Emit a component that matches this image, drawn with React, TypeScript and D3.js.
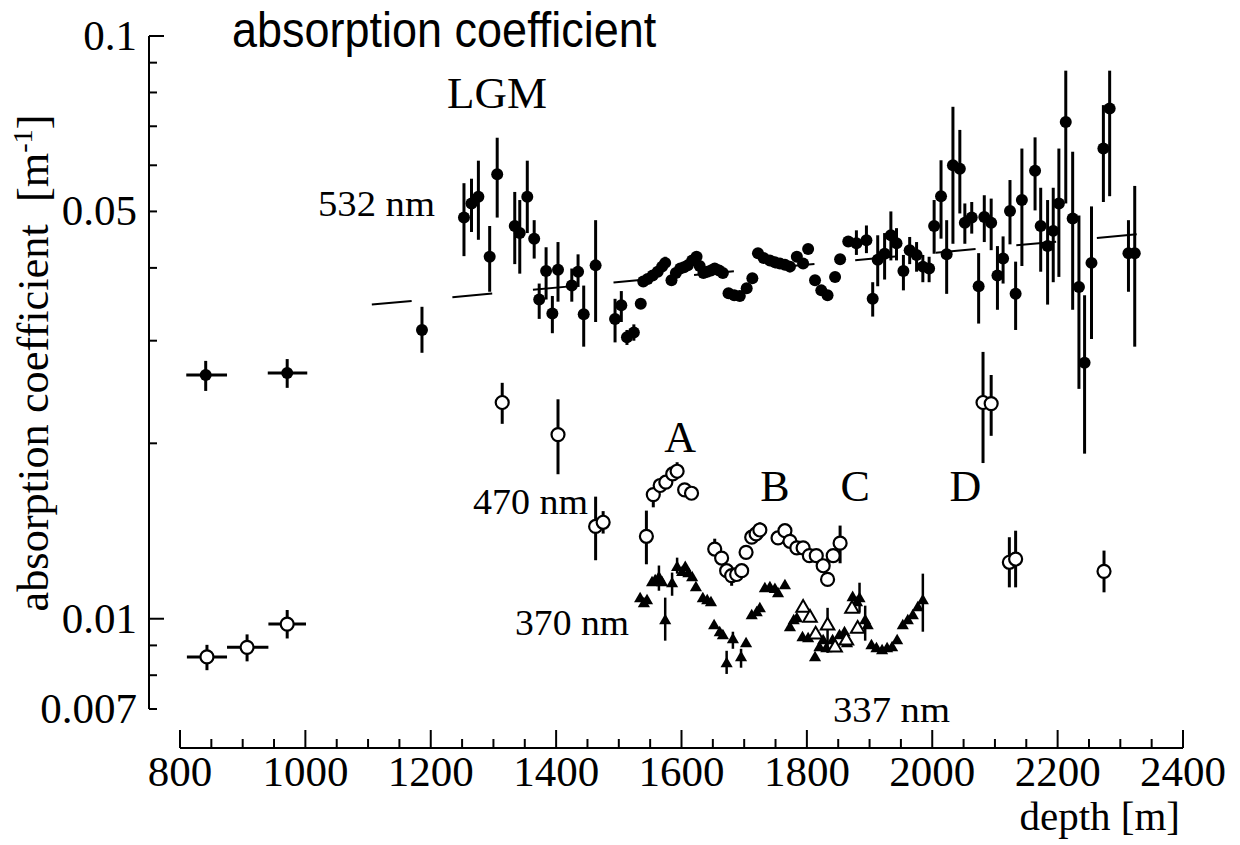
import React from "react";
import * as d3 from "d3";

// ---------- axis ticks ----------
const depthMajorTicks = [800, 1000, 1200, 1400, 1600, 1800, 2000, 2200, 2400];
const valueMajorTicks = [0.1, 0.05, 0.01, 0.007];
const valueMajorLabels = ["0.1", "0.05", "0.01", "0.007"];
const valueLongTicks = [0.1, 0.01];
const valueMinorTicks = [0.09, 0.08, 0.07, 0.06, 0.04, 0.03, 0.02, 0.009, 0.008];

// ---------- data: [depth, value, low, high] ----------
// 532 nm points with depth ranges: [depth, value, low, high, depthLow, depthHigh]
const nm532Wide = [
  [841, 0.0262, 0.0246, 0.0277, 810, 875],
  [971, 0.0264, 0.0249, 0.0279, 940, 1003],
];
const nm532 = [
  [1186, 0.0313, 0.0286, 0.0343],
  [1253, 0.0488, 0.0419, 0.0559],
  [1265, 0.0516, 0.0461, 0.0569],
  [1276, 0.053, 0.0447, 0.0611],
  [1294, 0.0418, 0.0364, 0.0472],
  [1306, 0.0579, 0.0488, 0.0669],
  [1334, 0.0472, 0.0406, 0.054],
  [1342, 0.0459, 0.0391, 0.0523],
  [1354, 0.053, 0.0459, 0.0611],
  [1365, 0.0449, 0.0415, 0.0483],
  [1373, 0.0353, 0.0327, 0.0376],
  [1384, 0.0395, 0.0353, 0.0434],
  [1394, 0.0334, 0.0309, 0.0358],
  [1403, 0.0397, 0.035, 0.0443],
  [1425, 0.0373, 0.035, 0.0399],
  [1435, 0.0394, 0.0371, 0.0422],
  [1444, 0.0333, 0.0293, 0.0373],
  [1463, 0.0404, 0.0323, 0.0483],
  [1494, 0.0327, 0.0298, 0.0354],
  [1504, 0.0345, 0.0323, 0.0365],
  [1513, 0.0304, 0.0295, 0.0313],
  [1524, 0.031, 0.03, 0.032],
  [1535, 0.0347, null, null],
  [1539, 0.0379, null, null],
  [1546, 0.0383, null, null],
  [1554, 0.0388, null, null],
  [1562, 0.0394, null, null],
  [1569, 0.0402, null, null],
  [1574, 0.0408, 0.04, 0.0418],
  [1584, 0.0381, null, null],
  [1591, 0.0392, null, null],
  [1598, 0.0399, null, null],
  [1604, 0.0401, null, null],
  [1610, 0.0404, null, null],
  [1617, 0.0412, null, null],
  [1624, 0.0418, null, null],
  [1629, 0.0403, null, null],
  [1635, 0.0392, null, null],
  [1641, 0.0394, null, null],
  [1647, 0.0396, null, null],
  [1653, 0.0399, null, null],
  [1660, 0.0396, null, null],
  [1666, 0.0392, null, null],
  [1675, 0.0362, null, null],
  [1684, 0.0359, null, null],
  [1693, 0.0358, null, null],
  [1704, 0.0369, null, null],
  [1713, 0.0384, null, null],
  [1722, 0.0424, null, null],
  [1731, 0.0416, null, null],
  [1741, 0.0412, null, null],
  [1749, 0.0409, null, null],
  [1757, 0.0407, null, null],
  [1765, 0.0405, null, null],
  [1773, 0.0402, null, null],
  [1784, 0.0418, null, null],
  [1794, 0.0407, null, null],
  [1802, 0.0431, null, null],
  [1813, 0.0381, null, null],
  [1823, 0.0366, null, null],
  [1833, 0.0359, null, null],
  [1845, 0.0386, null, null],
  [1853, 0.0414, null, null],
  [1866, 0.0444, null, null],
  [1879, 0.0441, 0.0421, 0.0464],
  [1895, 0.0446, 0.0424, 0.0473],
  [1905, 0.0354, 0.033, 0.0378],
  [1913, 0.0413, 0.0372, 0.0455],
  [1924, 0.0423, 0.0382, 0.0459],
  [1934, 0.0455, 0.0412, 0.05],
  [1943, 0.0441, 0.0412, 0.0468],
  [1954, 0.0395, 0.0366, 0.0421],
  [1964, 0.0429, 0.0406, 0.0452],
  [1975, 0.0421, 0.0394, 0.0443],
  [1985, 0.0402, 0.0378, 0.0421],
  [1995, 0.0399, 0.0378, 0.0418],
  [2003, 0.0472, 0.0423, 0.0523],
  [2014, 0.0531, 0.0449, 0.0612],
  [2023, 0.0422, 0.0361, 0.0483],
  [2033, 0.06, 0.044, 0.0756],
  [2044, 0.0592, 0.0496, 0.069],
  [2052, 0.0478, 0.044, 0.0516],
  [2063, 0.0488, 0.0458, 0.0519],
  [2074, 0.0372, 0.0321, 0.0424],
  [2083, 0.0489, 0.0443, 0.0533],
  [2094, 0.0478, 0.0429, 0.0526],
  [2104, 0.0388, 0.0339, 0.0436],
  [2113, 0.0415, 0.0376, 0.0453],
  [2124, 0.0501, 0.0439, 0.0566],
  [2133, 0.0361, 0.0313, 0.041],
  [2143, 0.0523, 0.0403, 0.0641],
  [2164, 0.0587, 0.0502, 0.067],
  [2173, 0.0472, 0.0394, 0.0549],
  [2184, 0.0436, 0.0346, 0.0523],
  [2193, 0.0463, 0.0378, 0.0549],
  [2202, 0.0516, 0.0386, 0.0641],
  [2213, 0.0712, 0.0516, 0.0872],
  [2224, 0.0486, 0.0339, 0.0633],
  [2234, 0.0371, 0.0248, 0.0492],
  [2243, 0.0275, 0.0192, 0.0359],
  [2254, 0.0408, 0.0302, 0.051],
  [2273, 0.0641, 0.0519, 0.0761],
  [2283, 0.0751, 0.0531, 0.0872],
  [2313, 0.0424, 0.0364, 0.0483],
  [2323, 0.0424, 0.0293, 0.0553],
];

// trend line (dashed) for 532 nm: [depth, value]
const nm532Trend = [
  [1106, 0.0346],
  [2328, 0.0457],
];

// 470 nm with depth ranges
const nm470Wide = [
  [843, 0.0086, 0.00816, 0.00902, 811, 875],
  [907, 0.00893, 0.00845, 0.0094, 875, 941],
  [971, 0.00979, 0.00925, 0.01035, 941, 1001],
];
const nm470 = [
  [1314, 0.0235, 0.0216, 0.0254],
  [1403, 0.0207, 0.0177, 0.0238],
  [1463, 0.0144, 0.0126, 0.0162],
  [1475, 0.01464, 0.014, 0.0153],
  [1544, 0.01385, 0.0124, 0.01533],
  [1555, 0.01633, 0.01553, 0.01633],
  [1566, 0.01693, null, null],
  [1575, 0.01715, null, null],
  [1586, 0.01772, null, null],
  [1593, 0.01791, 0.01791, 0.01856],
  [1605, 0.01664, null, null],
  [1616, 0.01642, null, null],
  [1653, 0.01317, 0.01317, 0.01372],
  [1664, 0.01271, null, null],
  [1672, 0.01209, null, null],
  [1680, 0.01186, 0.01139, 0.01186],
  [1688, 0.01191, null, null],
  [1696, 0.01209, null, null],
  [1703, 0.013, null, null],
  [1712, 0.0138, null, null],
  [1719, 0.01398, null, null],
  [1725, 0.0142, 0.0142, 0.01464],
  [1754, 0.01376, null, null],
  [1765, 0.01416, null, null],
  [1773, 0.01358, null, null],
  [1784, 0.01323, null, null],
  [1794, 0.01323, null, null],
  [1804, 0.01283, null, null],
  [1815, 0.01283, null, null],
  [1826, 0.01233, null, null],
  [1833, 0.01168, 0.01139, 0.01168],
  [1842, 0.01283, null, null],
  [1853, 0.01348, 0.01245, 0.01445],
  [2081, 0.0235, 0.0185, 0.0287],
  [2094, 0.0234, 0.0206, 0.0262],
  [2123, 0.0125, 0.01132, 0.0138],
  [2133, 0.01266, 0.01132, 0.01416],
  [2274, 0.01206, 0.0111, 0.01309],
];

// 370 nm (filled triangles)
const nm370 = [
  [1534, 0.01082, null, null],
  [1540, 0.01061, null, null],
  [1545, 0.01074, null, null],
  [1553, 0.01153, null, null],
  [1558, 0.01162, null, null],
  [1564, 0.01176, 0.01117, 0.01234],
  [1569, 0.01153, null, null],
  [1574, 0.00992, 0.00917, 0.01087],
  [1585, 0.01148, 0.01095, 0.012],
  [1593, 0.01224, 0.01195, 0.01273],
  [1601, 0.012, null, null],
  [1606, 0.01224, null, null],
  [1611, 0.01195, null, null],
  [1617, 0.01176, null, null],
  [1623, 0.0113, null, null],
  [1634, 0.01082, null, null],
  [1641, 0.01074, null, null],
  [1647, 0.01065, null, null],
  [1652, 0.00973, null, null],
  [1661, 0.00946, null, null],
  [1666, 0.00935, null, null],
  [1672, 0.00837, 0.00804, 0.00881],
  [1682, 0.0092, 0.00888, 0.0095],
  [1695, 0.00857, 0.00824, 0.00888],
  [1703, 0.00906, null, null],
  [1712, 0.01012, null, null],
  [1720, 0.01024, null, null],
  [1725, 0.0104, null, null],
  [1733, 0.01126, null, null],
  [1741, 0.0113, null, null],
  [1749, 0.01122, null, null],
  [1754, 0.01104, null, null],
  [1765, 0.01139, null, null],
  [1773, 0.00965, null, null],
  [1779, 0.00992, null, null],
  [1784, 0.01, null, null],
  [1793, 0.00928, null, null],
  [1802, 0.00924, null, null],
  [1813, 0.00857, null, null],
  [1820, 0.00892, null, null],
  [1826, 0.00917, null, null],
  [1831, 0.00888, null, null],
  [1841, 0.00917, null, null],
  [1852, 0.00935, null, null],
  [1860, 0.00946, null, null],
  [1864, 0.00906, null, null],
  [1873, 0.01087, null, null],
  [1880, 0.01065, null, null],
  [1884, 0.01082, 0.01024, 0.01153],
  [1893, 0.00992, 0.00917, 0.01053],
  [1897, 0.00973, null, null],
  [1903, 0.00899, null, null],
  [1911, 0.00888, null, null],
  [1920, 0.00881, null, null],
  [1928, 0.00888, null, null],
  [1936, 0.00892, null, null],
  [1944, 0.00917, null, null],
  [1953, 0.00973, null, null],
  [1961, 0.00992, null, null],
  [1969, 0.01012, null, null],
  [1977, 0.01044, null, null],
  [1985, 0.01074, 0.0095, 0.01195],
];

// 337 nm (open triangles)
const nm337 = [
  [1794, 0.01044, null, null],
  [1805, 0.01004, null, null],
  [1814, 0.00939, null, null],
  [1833, 0.00973, 0.00874, 0.01044],
  [1845, 0.00892, null, null],
  [1863, 0.00917, null, null],
  [1872, 0.0104, null, null],
  [1881, 0.00961, null, null],
];

// annotations: [text, depth-anchor, value-anchor]
const bandLabels = [
  { text: "A", depth: 1598, value: 0.0193 },
  { text: "B", depth: 1749, value: 0.0159 },
  { text: "C", depth: 1877, value: 0.0159 },
  { text: "D", depth: 2053, value: 0.0159 },
];

const W = 1240;
const H = 845;
const serif = "'Liberation Serif', 'DejaVu Serif', serif";
const sans = "'Liberation Sans', Arial, sans-serif";

export default function App() {
  const X = d3.scaleLinear().domain([800, 2400]).range([180, 1183]);
  const Y = d3.scaleLog().domain([0.007, 0.1]).range([709, 36]);
  const minorDepth = X.ticks(32).filter((t) => !depthMajorTicks.includes(t));
  const trendLine = d3
    .line<number[]>()
    .x((d) => X(d[0]))
    .y((d) => Y(d[1]))(nm532Trend);
  const tri = d3.symbol().type(d3.symbolTriangle).size(64)();
  const triOpen = d3.symbol().type(d3.symbolTriangle).size(80)();

  const vErr = (data: any[], key: string, sw = 3) =>
    data
      .filter((p) => p[2] != null)
      .map((p, i) => (
        <line
          key={key + i}
          x1={X(p[0])}
          x2={X(p[0])}
          y1={Y(p[2])}
          y2={Y(p[3])}
          stroke="#000"
          strokeWidth={sw}
        />
      ));
  const hErr = (data: any[], key: string) =>
    data.map((p, i) => (
      <line
        key={key + i}
        x1={X(p[4])}
        x2={X(p[5])}
        y1={Y(p[1])}
        y2={Y(p[1])}
        stroke="#000"
        strokeWidth={3}
      />
    ));

  return (
    <svg
      width={W}
      height={H}
      style={{ position: "absolute", left: 0, top: 0, background: "#fff" }}
    >
      <rect x={0} y={0} width={W} height={H} fill="#fff" />
      {/* title */}
      <text
        transform="translate(232,47) scale(1,1.12)"
        fontFamily={sans}
        fontSize={45}
        fill="#000"
      >
        absorption coefficient
      </text>

      {/* y axis */}
      <line x1={149} x2={149} y1={Y(0.1)} y2={Y(0.007)} stroke="#000" strokeWidth={2} />
      {valueMajorTicks.map((t, i) => (
        <g key={"ym" + i}>
          <line
            x1={149}
            x2={149 + (valueLongTicks.includes(t) ? 15 : 8)}
            y1={Y(t)}
            y2={Y(t)}
            stroke="#000"
            strokeWidth={2}
          />
          <text
            x={137}
            y={Y(t) + 14}
            textAnchor="end"
            fontFamily={serif}
            fontSize={43}
            fill="#000"
          >
            {valueMajorLabels[i]}
          </text>
        </g>
      ))}
      {valueMinorTicks.map((t, i) => (
        <line key={"yn" + i} x1={149} x2={157} y1={Y(t)} y2={Y(t)} stroke="#000" strokeWidth={2} />
      ))}
      <text
        transform="translate(48,363) rotate(-90)"
        textAnchor="middle"
        fontFamily={serif}
        fontSize={44}
        fill="#000"
        textLength={497}
        lengthAdjust="spacingAndGlyphs"
      >
        absorption coefficient{"\u00a0\u00a0"}[m
        <tspan fontSize={28} dy={-16}>-1</tspan>
        <tspan dy={16}>]</tspan>
      </text>

      {/* x axis */}
      <line x1={X(800)} x2={X(2400)} y1={748} y2={748} stroke="#000" strokeWidth={2} />
      {depthMajorTicks.map((t) => (
        <g key={"xm" + t}>
          <line x1={X(t)} x2={X(t)} y1={748} y2={730} stroke="#000" strokeWidth={2} />
          <text
            x={X(t)}
            y={786}
            textAnchor="middle"
            fontFamily={serif}
            fontSize={43}
            fill="#000"
          >
            {t}
          </text>
        </g>
      ))}
      {minorDepth.map((t) => (
        <line key={"xn" + t} x1={X(t)} x2={X(t)} y1={748} y2={739} stroke="#000" strokeWidth={2} />
      ))}
      <text x={1180} y={830} textAnchor="end" fontFamily={serif} fontSize={41} fill="#000">
        depth [m]
      </text>

      {/* trend line */}
      <path d={trendLine || ""} fill="none" stroke="#000" strokeWidth={2} strokeDasharray="40 40.9" />

      {/* error bars */}
      {vErr(nm532Wide, "e532w")}
      {hErr(nm532Wide, "h532w")}
      {vErr(nm532, "e532")}
      {vErr(nm470Wide, "e470w")}
      {hErr(nm470Wide, "h470w")}
      {vErr(nm470, "e470")}
      {vErr(nm370, "e370", 2.5)}
      {vErr(nm337, "e337", 2.5)}

      {/* markers */}
      {nm532Wide.concat(nm532 as any).map((p, i) => (
        <circle key={"c532" + i} cx={X(p[0] as number)} cy={Y(p[1] as number)} r={6} fill="#000" />
      ))}
      {nm470Wide.concat(nm470 as any).map((p, i) => (
        <circle
          key={"c470" + i}
          cx={X(p[0] as number)}
          cy={Y(p[1] as number)}
          r={6.5}
          fill="#fff"
          stroke="#000"
          strokeWidth={2.2}
        />
      ))}
      {nm370.map((p, i) => (
        <path
          key={"t370" + i}
          d={tri || ""}
          transform={`translate(${X(p[0] as number)},${Y(p[1] as number)})`}
          fill="#000"
        />
      ))}
      {nm337.map((p, i) => (
        <path
          key={"t337" + i}
          d={triOpen || ""}
          transform={`translate(${X(p[0] as number)},${Y(p[1] as number)})`}
          fill="#fff"
          stroke="#000"
          strokeWidth={2}
        />
      ))}

      {/* annotations */}
      <text x={447} y={108} fontFamily={serif} fontSize={45} fill="#000">
        LGM
      </text>
      <text x={318} y={216} fontFamily={serif} fontSize={35} fill="#000" textLength={117} lengthAdjust="spacingAndGlyphs">
        532 nm
      </text>
      <text x={473} y={514} fontFamily={serif} fontSize={35} fill="#000" textLength={115} lengthAdjust="spacingAndGlyphs">
        470 nm
      </text>
      <text x={515} y={635} fontFamily={serif} fontSize={35} fill="#000" textLength={114} lengthAdjust="spacingAndGlyphs">
        370 nm
      </text>
      <text x={833} y={722} fontFamily={serif} fontSize={35} fill="#000" textLength={117} lengthAdjust="spacingAndGlyphs">
        337 nm
      </text>
      {bandLabels.map((b) => (
        <text
          key={b.text}
          x={X(b.depth)}
          y={Y(b.value)}
          textAnchor="middle"
          fontFamily={serif}
          fontSize={44}
          fill="#000"
        >
          {b.text}
        </text>
      ))}
    </svg>
  );
}
